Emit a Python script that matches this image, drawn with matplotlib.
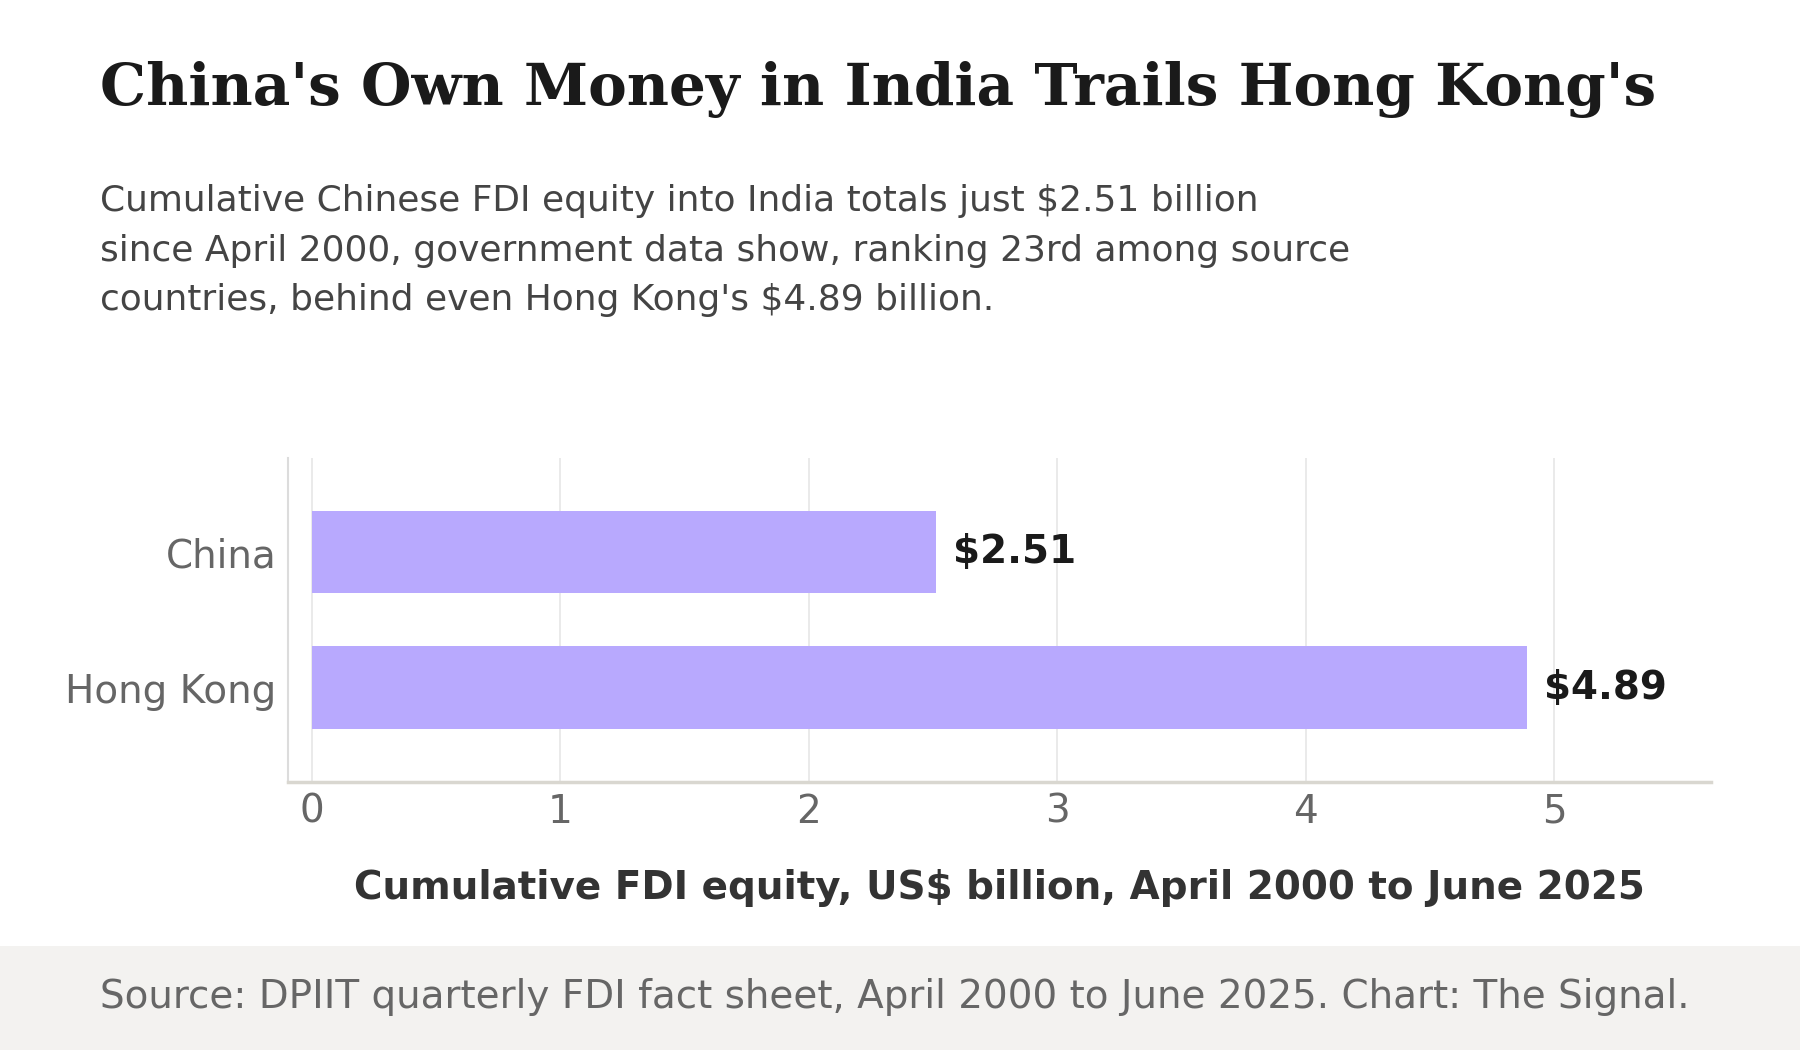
import matplotlib
matplotlib.use("Agg")
import matplotlib.pyplot as plt
from matplotlib.patches import Rectangle

categories = ["China", "Hong Kong"]
values = [2.51, 4.89]
value_labels = ["$2.51", "$4.89"]
x_ticks = [0, 1, 2, 3, 4, 5]

title = "China's Own Money in India Trails Hong Kong's"
subtitle = ("Cumulative Chinese FDI equity into India totals just $2.51 billion\n"
            "since April 2000, government data show, ranking 23rd among source\n"
            "countries, behind even Hong Kong's $4.89 billion.")
xlabel = "Cumulative FDI equity, US$ billion, April 2000 to June 2025"
source = "Source: DPIIT quarterly FDI fact sheet, April 2000 to June 2025. Chart: The Signal."

W, H = 1800, 1050
fig = plt.figure(figsize=(18, 10.5), dpi=100)
fig.patch.set_facecolor("white")

# footer band
fig.patches.append(Rectangle((0, 0), 1, (H - 946) / H, transform=fig.transFigure,
                             facecolor="#f3f2f0", edgecolor="none", zorder=0))

ax = fig.add_axes([287.7 / W, 1 - 781.7 / H, (1711 - 287.7) / W, (781.7 - 458) / H])

ypos = [1, 0]
ax.barh(ypos, values, height=0.61, color="#b8a9fe", zorder=2)
for y, v, lab in zip(ypos, values, value_labels):
    ax.annotate(lab, xy=(v, y), xytext=(12.5, 0), textcoords="offset points",
                ha="left", va="center", fontsize=28, fontweight="bold",
                color="#1a1a1a", zorder=3)

ax.set_xlim(-0.097, 5.63)
ax.set_ylim(-0.695, 1.695)
ax.set_yticks(ypos)
ax.set_yticklabels(categories)
ax.set_xticks(x_ticks)
ax.set_xticklabels([str(t) for t in x_ticks])
ax.tick_params(axis="both", length=0, labelsize=28, labelcolor="#666666")
ax.tick_params(axis="y", pad=8)
ax.tick_params(axis="x", pad=8)
ax.grid(axis="x", color="#e6e6e6", linewidth=1.2, zorder=0)
ax.set_axisbelow(True)
for s in ["top", "right"]:
    ax.spines[s].set_visible(False)
ax.spines["left"].set_color("#dcdcdc")
ax.spines["left"].set_linewidth(1.5)
ax.spines["bottom"].set_color("#d9d7d0")
ax.spines["bottom"].set_linewidth(2.5)

fig.text((287.7 + 1711) / 2 / W, 1 - 899 / H, xlabel, ha="center", va="baseline",
         fontsize=28, fontweight="bold", color="#333333")

fig.text(100 / W, 1 - 105 / H, title, ha="left", va="baseline",
         fontsize=41.8, fontweight="bold", family="DejaVu Serif", color="#1a1a1a")
fig.text(100 / W, 1 - 310 / H, subtitle, ha="left", va="baseline",
         fontsize=25.9, color="#444444", linespacing=1.57)
fig.text(100 / W, 1 - 1008 / H, source, ha="left", va="baseline",
         fontsize=28, color="#666666")

fig.savefig("out.png", dpi=100, facecolor="white")
